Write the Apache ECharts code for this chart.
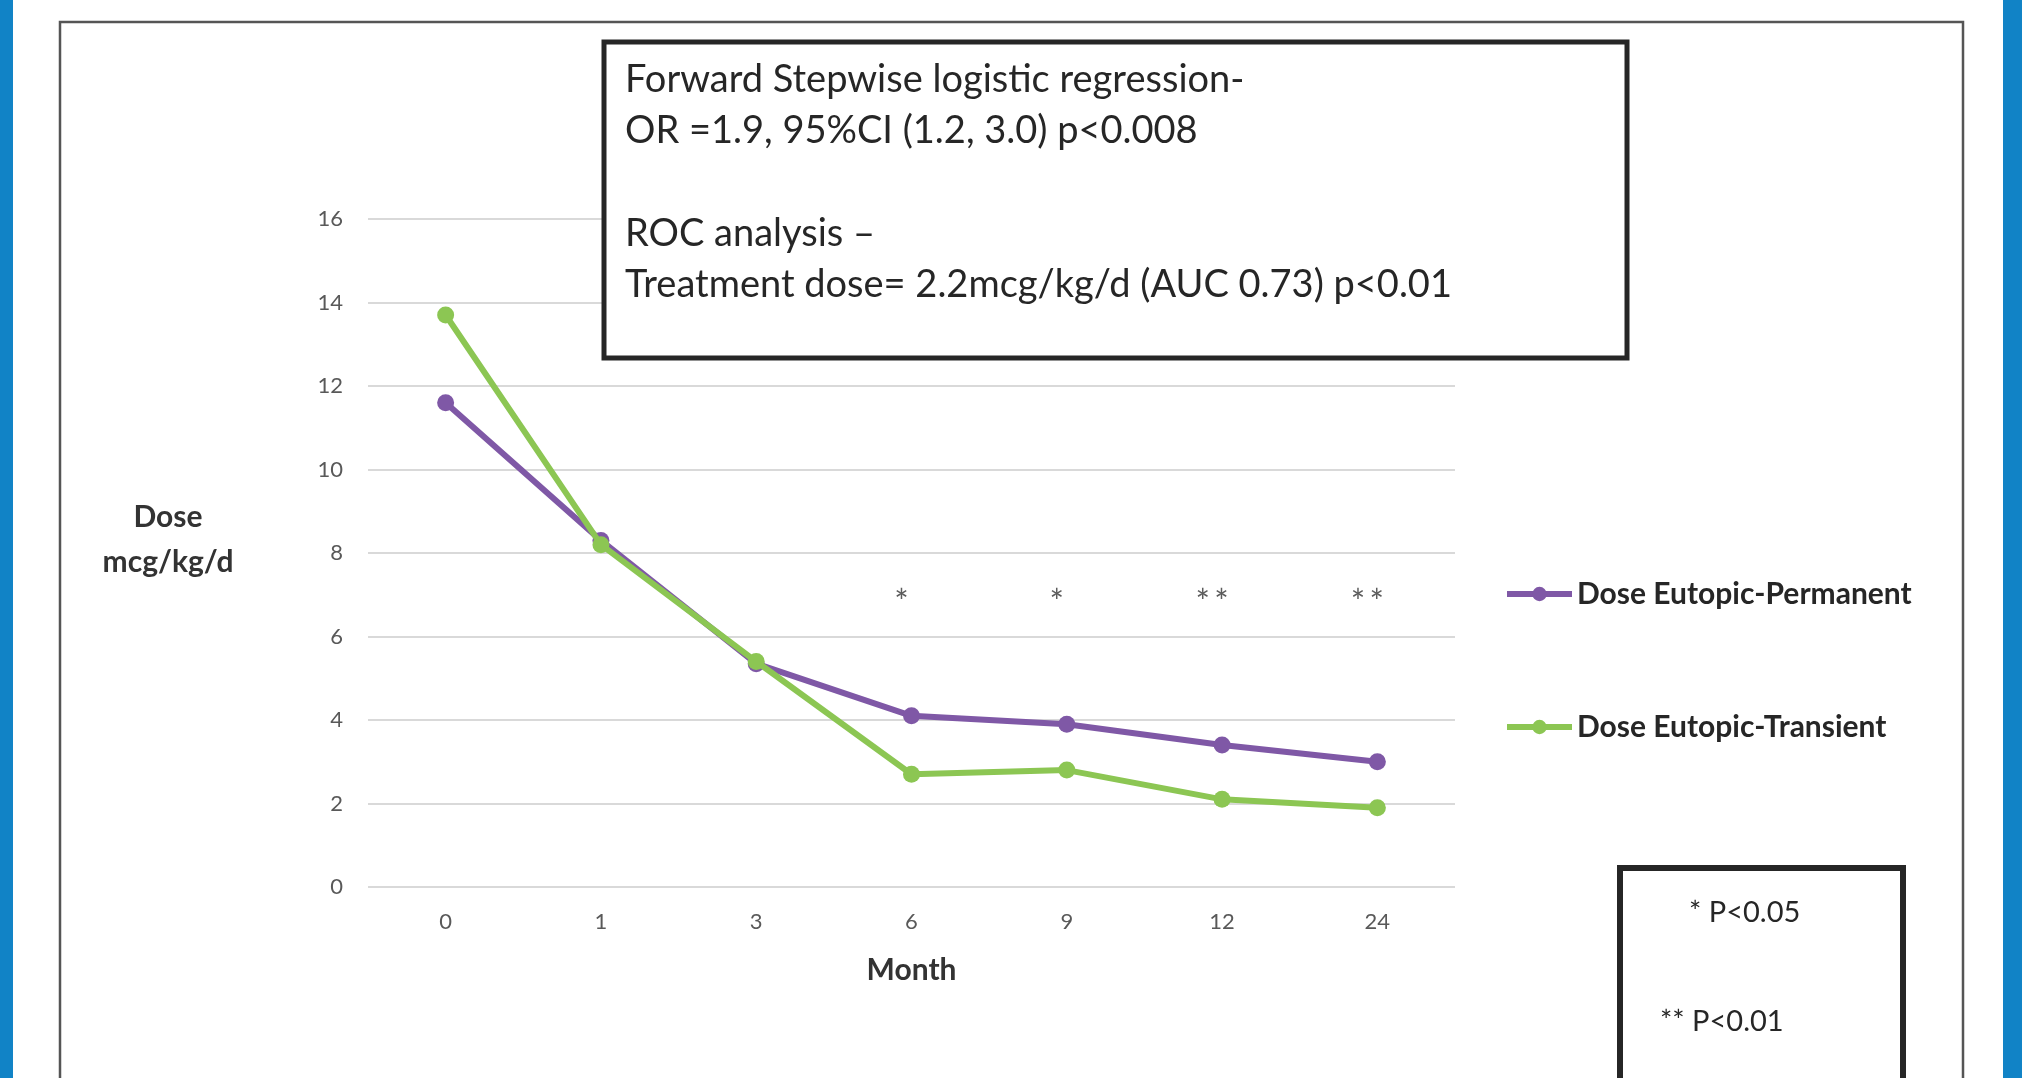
<!DOCTYPE html>
<html>
<head>
<meta charset="utf-8">
<style>
  html, body { margin: 0; padding: 0; background: #ffffff; }
  #chart { width: 2022px; height: 1078px; }
</style>
<script src="https://cdn.jsdelivr.net/npm/echarts@6/dist/echarts.min.js"></script>
</head>
<body>
<div id="chart"></div>
<script>
// ---- data ----
const months = ['0', '1', '3', '6', '9', '12', '24'];
const dosePermanent = [11.6, 8.3, 5.35, 4.1, 3.9, 3.4, 3.0];
const doseTransient = [13.7, 8.2, 5.4, 2.7, 2.8, 2.1, 1.9];
const sigMarks = ['', '', '', '*', '*', '*\u2009*', '*\u2009*'];
const sigLevel = 6.8;
const yTicks = [0, 2, 4, 6, 8, 10, 12, 14, 16];
const seriesNames = ['Dose Eutopic-Permanent', 'Dose Eutopic-Transient'];
const statsLines = [
  'Forward Stepwise logistic regression-',
  'OR =1.9, 95%CI (1.2, 3.0) p<0.008',
  '',
  'ROC analysis \u2013',
  'Treatment dose= 2.2mcg/kg/d (AUC 0.73) p<0.01'
];
const pLegendLines = ['* P<0.05', '** P<0.01'];
const yTitleLines = ['Dose', 'mcg/kg/d'];
const xTitle = 'Month';

const FONT = 'Lato, "Open Sans", sans-serif';
const purple = '#7f58a6';
const green = '#8cc653';

const chart = echarts.init(document.getElementById('chart'), null, { renderer: 'canvas' });

const legendText = { fontSize: 30, fontWeight: 'bold', color: '#262626', fontFamily: FONT, lineHeight: 34 };

const option = {
  backgroundColor: '#ffffff',
  animation: false,
  grid: { left: 368, right: 567, top: 219, bottom: 191, containLabel: false },
  xAxis: {
    type: 'category',
    data: months,
    boundaryGap: true,
    axisLine: { show: false },
    axisTick: { show: false },
    axisLabel: { margin: 24, color: '#595959', fontSize: 22, fontFamily: FONT },
    name: xTitle,
    nameLocation: 'middle',
    nameGap: 68,
    nameTextStyle: { fontSize: 30, fontWeight: 'bold', color: '#333333', fontFamily: FONT }
  },
  yAxis: {
    type: 'value',
    min: yTicks[0],
    max: yTicks[yTicks.length - 1],
    interval: yTicks[1] - yTicks[0],
    axisLine: { show: false },
    axisTick: { show: false },
    axisLabel: { margin: 25, color: '#595959', fontSize: 22, fontFamily: FONT },
    splitLine: { lineStyle: { color: '#d9d9d9', width: 2 } }
  },
  legend: [
    {
      data: [seriesNames[0]],
      left: 1499, top: 572,
      itemWidth: 65, itemHeight: 18,
      lineStyle: { width: 6 },
      textStyle: legendText
    },
    {
      data: [seriesNames[1]],
      left: 1499, top: 705,
      itemWidth: 65, itemHeight: 18,
      lineStyle: { width: 6 },
      textStyle: legendText
    }
  ],
  series: [
    {
      name: seriesNames[0],
      type: 'line',
      data: dosePermanent,
      symbol: 'circle',
      symbolSize: 17,
      lineStyle: { color: purple, width: 6 },
      itemStyle: { color: purple },
      z: 3
    },
    {
      name: seriesNames[1],
      type: 'line',
      data: doseTransient,
      symbol: 'circle',
      symbolSize: 17,
      lineStyle: { color: green, width: 6 },
      itemStyle: { color: green },
      z: 4
    },
    {
      name: 'significance',
      type: 'scatter',
      symbolSize: 0,
      silent: true,
      data: sigMarks.map((m, i) => m ? { value: [i, sigLevel], label: { formatter: m } } : null).filter(Boolean),
      label: {
        show: true,
        position: 'inside',
        offset: [-10, 0],
        fontSize: 34,
        color: '#333333',
        fontFamily: FONT
      },
      z: 5
    }
  ],
  graphic: [
    // blue side bands
    { type: 'rect', shape: { x: 0, y: 0, width: 13, height: 1078 }, style: { fill: '#1183c6' }, z: 100 },
    { type: 'rect', shape: { x: 2003, y: 0, width: 19, height: 1078 }, style: { fill: '#1183c6' }, z: 100 },
    // outer frame (open at bottom)
    { type: 'polyline', shape: { points: [[60, 1080], [60, 22], [1963, 22], [1963, 1080]] },
      style: { stroke: '#555555', lineWidth: 2.5, fill: null }, z: 100 },
    // y-axis title
    { type: 'text', x: 168, y: 540, z: 100,
      style: { text: yTitleLines.join('\n'), font: 'bold 30px ' + FONT, fill: '#333333',
               textAlign: 'center', textVerticalAlign: 'middle', lineHeight: 45 } },
    // stats box
    { type: 'rect', shape: { x: 604, y: 42, width: 1023, height: 316 },
      style: { fill: '#ffffff', stroke: '#262626', lineWidth: 5 }, z: 100 },
    { type: 'text', x: 625, y: 54, z: 101,
      style: { text: statsLines.join('\n'), font: '38px ' + FONT, fill: '#262626',
               textAlign: 'left', textVerticalAlign: 'top', lineHeight: 51.3 } },
    // p-value box
    { type: 'rect', shape: { x: 1620, y: 868, width: 283, height: 260 },
      style: { fill: '#ffffff', stroke: '#262626', lineWidth: 6 }, z: 100 },
    { type: 'text', x: 1689, y: 913, z: 101,
      style: { text: pLegendLines[0], font: '29px ' + FONT, fill: '#262626',
               textAlign: 'left', textVerticalAlign: 'middle' } },
    { type: 'text', x: 1660, y: 1022, z: 101,
      style: { text: pLegendLines[1], font: '29px ' + FONT, fill: '#262626',
               textAlign: 'left', textVerticalAlign: 'middle' } }
  ]
};

chart.setOption(option);
</script>
</body>
</html>
